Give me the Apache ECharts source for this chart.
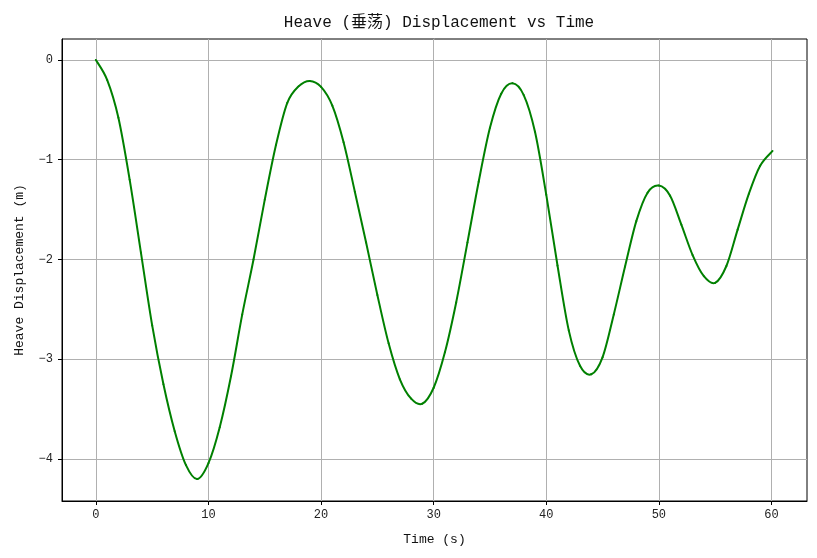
<!DOCTYPE html>
<html>
<head>
<meta charset="utf-8">
<script src="https://cdn.jsdelivr.net/npm/echarts@6/dist/echarts.min.js"></script>
<style>html,body{margin:0;padding:0;background:#fff;}#c{width:817px;height:558px;}</style>
</head>
<body>
<div id="c"></div>
<script>
var time  = [0, 1, 2, 3, 4, 5, 6, 7, 8, 9, 10, 11, 12, 13, 14, 15, 16, 17, 18, 19, 20, 21, 22, 23, 24, 25, 26, 27, 28, 29, 30, 31, 32, 33, 34, 35, 36, 37, 38, 39, 40, 41, 42, 43, 44, 45, 46, 47, 48, 49, 50, 51, 52, 53, 54, 55, 56, 57, 58, 59, 60.1];
var heave = [0, -0.2, -0.58, -1.2, -1.93, -2.66, -3.25, -3.72, -4.06, -4.20, -4.04, -3.68, -3.17, -2.55, -2.00, -1.40, -0.85, -0.43, -0.265, -0.21, -0.27, -0.458, -0.825, -1.32, -1.83, -2.355, -2.84, -3.20, -3.394, -3.444, -3.285, -2.93, -2.43, -1.83, -1.22, -0.68, -0.338, -0.234, -0.352, -0.72, -1.35, -2.06, -2.71, -3.065, -3.15, -2.98, -2.55, -2.07, -1.615, -1.33, -1.259, -1.36, -1.65, -1.955, -2.167, -2.234, -2.065, -1.70, -1.34, -1.06, -0.912];
var xTicks = [0, 10, 20, 30, 40, 50, 60];
var yTicks = [-4, -3, -2, -1, 0];

var FONT = "'Liberation Mono', 'Noto Sans CJK SC', monospace";
var pts = time.map(function (t, i) { return [t, heave[i]]; });
var n = pts.length;
function fmt(v) { return String(v).replace('-', '\u2212'); }

// Each item draws the spline piece from point i to point i+1 (Catmull-Rom through the data, via the axes' scales)
function renderItem(params, api) {
  var i = params.dataIndex;
  if (i >= n - 1) return null;
  var p0 = api.coord(pts[Math.max(i - 1, 0)]);
  var p1 = api.coord(pts[i]);
  var p2 = api.coord(pts[i + 1]);
  var p3 = api.coord(pts[Math.min(i + 2, n - 1)]);
  return {
    type: 'bezierCurve',
    shape: {
      x1: p1[0], y1: p1[1], x2: p2[0], y2: p2[1],
      cpx1: p1[0] + (p2[0] - p0[0]) / 6, cpy1: p1[1] + (p2[1] - p0[1]) / 6,
      cpx2: p2[0] - (p3[0] - p1[0]) / 6, cpy2: p2[1] - (p3[1] - p1[1]) / 6
    },
    style: {stroke: '#008000', lineWidth: 2, fill: null, lineCap: 'round'},
    silent: true
  };
}

var chart = echarts.init(document.getElementById('c'), null, {renderer: 'canvas'});
chart.setOption({
  animation: false,
  backgroundColor: '#fff',
  title: {
    text: 'Heave (垂荡) Displacement vs Time',
    left: 434, top: 10, textAlign: 'center',
    textStyle: {fontFamily: FONT, fontSize: 16, fontWeight: 'normal', color: '#111'}
  },
  grid: {left: 62, right: 10, top: 39, bottom: 57, show: true, borderColor: '#000', borderWidth: 1, backgroundColor: 'transparent'},
  xAxis: {
    type: 'value', min: -3.01, max: 63.16,
    name: 'Time (s)', nameLocation: 'middle', nameGap: 32,
    nameTextStyle: {fontFamily: FONT, fontSize: 13, color: '#111'},
    axisLine: {show: true, onZero: false, lineStyle: {color: '#000', width: 1}},
    axisTick: {show: true, length: 4, customValues: xTicks, lineStyle: {color: '#000'}},
    axisLabel: {customValues: xTicks, fontFamily: FONT, fontSize: 12, color: '#222', margin: 8, formatter: fmt},
    splitLine: {show: true, lineStyle: {color: '#b0b0b0', width: 1}}
  },
  yAxis: {
    type: 'value', min: -4.42, max: 0.21,
    name: 'Heave Displacement (m)', nameLocation: 'middle', nameGap: 36,
    nameTextStyle: {fontFamily: FONT, fontSize: 13, color: '#111'},
    axisLine: {show: true, onZero: false, lineStyle: {color: '#000', width: 1}},
    axisTick: {show: true, length: 4, customValues: yTicks, lineStyle: {color: '#000'}},
    axisLabel: {customValues: yTicks, fontFamily: FONT, fontSize: 12, color: '#222', margin: 9, formatter: fmt},
    splitLine: {show: true, lineStyle: {color: '#b0b0b0', width: 1}}
  },
  series: [{
    type: 'custom', data: pts, renderItem: renderItem,
    encode: {x: 0, y: 1}, clip: true
  }]
});
</script>
</body>
</html>
